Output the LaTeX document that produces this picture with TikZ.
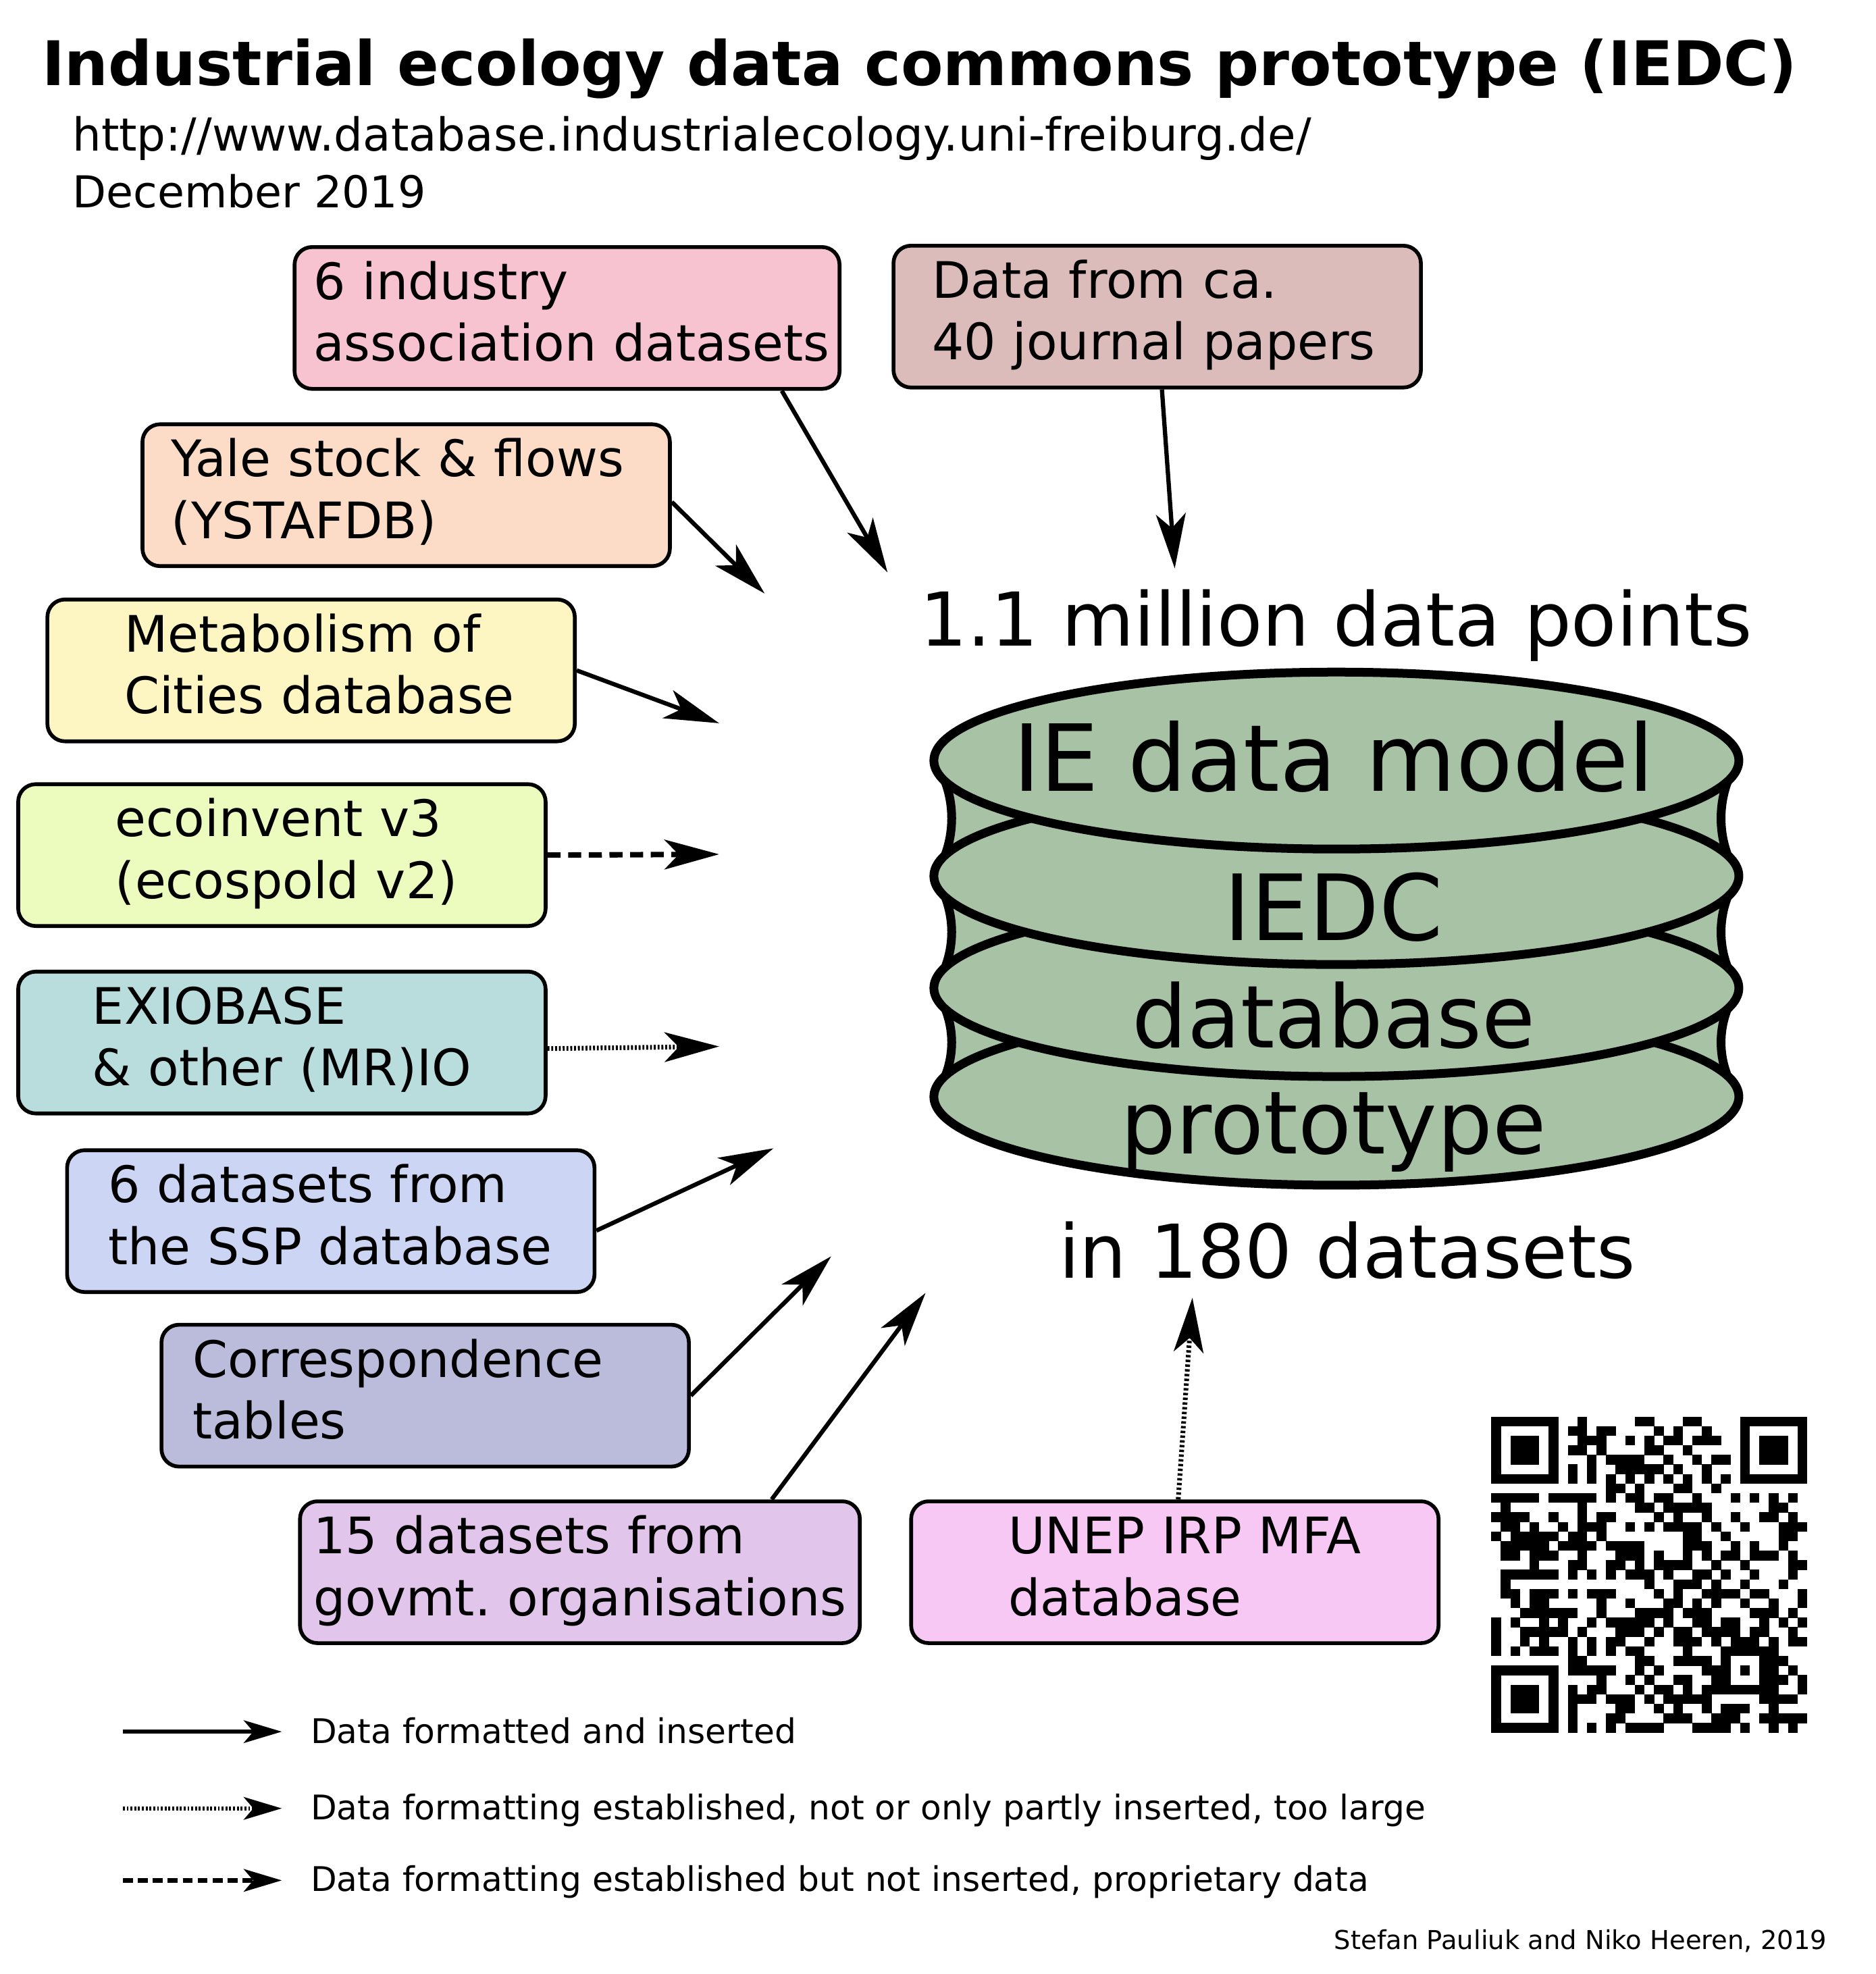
\documentclass[tikz,border=0pt]{standalone}
\usepackage{fontspec}
\setmainfont{DejaVu Sans}
\usetikzlibrary{arrows.meta}

\definecolor{industrypink}{HTML}{F7C3D0}
\definecolor{journalrose}{HTML}{DBBCBB}
\definecolor{yalepeach}{HTML}{FCDCC7}
\definecolor{citiesyellow}{HTML}{FDF6C2}
\definecolor{ecoinventlime}{HTML}{ECFCBE}
\definecolor{exiocyan}{HTML}{B9DDDD}
\definecolor{sspblue}{HTML}{CCD6F4}
\definecolor{corrslate}{HTML}{BBBBDB}
\definecolor{govmtlilac}{HTML}{E1C5EA}
\definecolor{uneppink}{HTML}{F8C8F5}
\definecolor{cylgreen}{HTML}{A8C2A6}

\newcommand\srcfont{\fontsize{21.2}{26}\selectfont}
\newcommand\bigfont{\fontsize{31.3}{38}\selectfont}
\newcommand\legfont{\fontsize{14.3}{17}\selectfont}
% two lines of a source box, kept unbroken
\newcommand\srclines[2]{\begin{tabular}{@{}l@{}}#1\\#2\end{tabular}}

\tikzset{
  srcbox/.style={draw, line width=1.6pt, rounded corners=0.26cm, anchor=north west,
    minimum height=2.10cm, align=left, font=\srcfont},
  feed/.style={line width=1.8pt, -{Stealth[length=23pt, width=12.5pt, inset=6pt]}},
  propfeed/.style={feed, line width=2.3pt, dash pattern=on 5.5pt off 3.2pt},
  partfeed/.style={feed, line width=2pt, dash pattern=on 1pt off 1pt},
  legend/.style={line width=1.8pt, -{Stealth[length=16pt, width=9.5pt, inset=4pt]}},
  cylline/.style={line width=3.7pt, line join=round},
  cyltext/.style={anchor=base, inner sep=0pt},
  bigtext/.style={anchor=base, inner sep=0pt, font=\bigfont},
}

\begin{document}
\begin{tikzpicture}[x=0.01006cm, y=-0.01006cm]
\useasboundingbox[fill=white] (0cm,0cm) rectangle (27.78cm,-29.23cm);

% heading
\node[anchor=base west, inner sep=0pt, font=\fontsize{25.9}{31}\selectfont\bfseries] (title) at (61,126) {Industrial ecology data commons prototype (IEDC)};
\node[anchor=base west, inner sep=0pt, font=\fontsize{19.2}{23}\selectfont] (url) at (106,222) {http://www.database.industrialecology.uni-freiburg.de/};
\node[anchor=base west, inner sep=0pt, font=\fontsize{18.5}{23}\selectfont] (date) at (106,306) {December 2019};

% sources
\node[srcbox, fill=industrypink, inner xsep=0.28cm, text width=7.51cm] (industry) at (431,361) {\srclines{6 industry}{association datasets}};
\node[srcbox, fill=journalrose, inner xsep=0.57cm, text width=6.67cm] (journals) at (1313,359) {\srclines{Data from ca.}{40 journal papers}};
\node[srcbox, fill=yalepeach, inner xsep=0.43cm, text width=6.95cm] (yale) at (207,622) {\srclines{Yale stock \& flows}{(YSTAFDB)}};
\node[srcbox, fill=citiesyellow, inner xsep=1.14cm, text width=5.53cm] (cities) at (67,880) {\srclines{Metabolism of}{Cities database}};
\node[srcbox, fill=ecoinventlime, inner xsep=1.44cm, text width=4.93cm] (ecoinvent) at (24,1152) {\srclines{ecoinvent v3}{(ecospold v2)}};
\node[srcbox, fill=exiocyan, inner xsep=1.10cm, text width=5.61cm] (exiobase) at (24,1428) {\srclines{EXIOBASE}{\& other (MR)IO}};
\node[srcbox, fill=sspblue, inner xsep=0.61cm, text width=6.59cm] (ssp) at (96,1691) {\srclines{6 datasets from}{the SSP database}};
\node[srcbox, fill=corrslate, inner xsep=0.46cm, text width=6.89cm] (corr) at (235,1948) {\srclines{Correspondence}{tables}};
\node[srcbox, fill=govmtlilac, inner xsep=0.20cm, text width=7.89cm] (govmt) at (439,2208) {\srclines{15 datasets from}{govmt.\ organisations}};
\node[srcbox, fill=uneppink, inner xsep=1.44cm, text width=4.93cm] (unep) at (1339,2208) {\srclines{UNEP IRP MFA}{database}};

% database cylinder
\foreach \ya/\yb in {1120/1290,1290/1455,1455/1615} {
  \fill[cylgreen] (1376,\ya) .. controls (1410,\ya+50) and (1410,\yb-50) .. (1376,\yb)
    -- (2560,\yb) .. controls (2526,\yb-50) and (2526,\ya+50) .. (2560,\ya) -- cycle;
  \draw[cylline] (1376,\ya) .. controls (1410,\ya+50) and (1410,\yb-50) .. (1376,\yb);
  \draw[cylline] (2560,\ya) .. controls (2526,\ya+50) and (2526,\yb-50) .. (2560,\yb);
}
\foreach \yc in {1615,1455,1290,1120}
  \draw[cylline, fill=cylgreen] (1968,\yc) ellipse [x radius=5.96cm, y radius=1.31cm];

\node[cyltext, font=\fontsize{39}{44}\selectfont] (model) at (1964,1165) {IE data model};
\node[cyltext, font=\fontsize{38.5}{44}\selectfont] (iedc) at (1964,1385) {IEDC};
\node[cyltext, font=\fontsize{36.6}{44}\selectfont] (dbase) at (1964,1543) {database};
\node[cyltext, font=\fontsize{36.8}{44}\selectfont] (proto) at (1964,1699) {prototype};
\node[bigtext] (points) at (1968,951) {1.1 million data points};
\node[bigtext] (sets) at (1984,1882) {in 180 datasets};

% arrow targets
\coordinate (t1) at (1307,843);
\coordinate (t2) at (1730,837);
\coordinate (t3) at (1126,874);
\coordinate (t4) at (1059,1065);
\coordinate (t5) at (1059,1258);
\coordinate (t6) at (1059,1541);
\coordinate (t7) at (1139,1691);
\coordinate (t8) at (1224,1850);
\coordinate (t9) at (1363,1904);
\coordinate (t10) at (1756,1911);

\draw[feed] ([xshift=3.18cm]industry.south) -- (t1);
\draw[feed] ([xshift=0.07cm]journals.south) -- (t2);
\draw[feed] ([yshift=-0.1cm]yale.east) -- (t3);
\draw[feed] (cities.east) -- (t4);
\draw[propfeed] (ecoinvent.east) -- (t5);
\draw[partfeed, dash pattern=on 0.8pt off 0.8pt] ([yshift=-0.09cm]exiobase.east) -- (t6);
\draw[feed] ([yshift=-0.14cm]ssp.east) -- (t7);
\draw[feed] (corr.east) -- (t8);
\draw[feed] ([xshift=2.84cm]govmt.north) -- (t9);
\draw[partfeed] ([xshift=0.05cm]unep.north) -- (t10);

% QR code
\foreach \r/\cs in {
  0/{0,1,2,3,4,5,6,9,15,16,20,21,26,27,28,29,30,31,32},
  1/{0,6,8,9,11,12,17,19,22,26,32},
  2/{0,2,3,4,6,9,10,11,14,16,18,19,21,22,23,26,28,29,30,32},
  3/{0,2,3,4,6,8,9,11,16,17,20,26,28,29,30,32},
  4/{0,2,3,4,6,10,12,13,14,15,18,21,23,24,26,28,29,30,32},
  5/{0,6,8,10,13,14,15,16,17,19,22,26,32},
  6/{0,1,2,3,4,5,6,8,10,12,14,16,18,20,22,24,26,27,28,29,30,31,32},
  7/{12,13,15,19,20,23},
  8/{0,1,2,3,4,6,7,8,9,10,12,14,15,17,18,21,25,27,29,31},
  9/{1,9,15,16,18,19,20,21,22,29,30},
  10/{0,1,2,3,6,9,11,12,17,19,22,25,28,29,31},
  11/{1,2,4,7,9,10,11,14,16,18,19,20,21,23,26,30,31,32},
  12/{0,2,3,4,5,6,8,9,11,20,21,24,30,31},
  13/{1,2,3,4,5,7,8,9,10,12,13,14,15,20,21,22,25,27,30},
  14/{1,2,4,5,6,9,13,14,15,17,20,22,24,25,27,28,29,31},
  15/{4,8,9,12,13,15,17,18,19,20,23,26,31,32},
  16/{1,2,3,4,5,6,8,10,12,14,15,16,18,21,22,24,27,31},
  17/{1,16,19,20,21,23,26,30},
  18/{1,2,4,5,6,8,10,11,12,17,19,22,23,24,25,27,28,32},
  19/{2,4,5,11,14,18,19,21,23,26,29,32},
  20/{3,4,5,6,7,8,11,15,16,17,18,20,21,22,27,28,29,31},
  21/{0,2,5,7,10,12,13,14,15,16,18,21,22,24,25,28,30,32},
  22/{0,3,4,5,6,7,9,13,14,15,17,19,20,22,23,24,25,27,28,31},
  23/{0,3,5,8,10,12,13,16,19,20,21,23,25,26,27,29,31,32},
  24/{0,2,4,5,6,8,10,12,14,15,20,24,25,26,27,28,29},
  25/{8,9,15,16,19,20,21,22,24,28,29,30},
  26/{0,1,2,3,4,5,6,8,9,10,11,12,15,17,22,23,24,26,28,29,31},
  27/{0,6,11,14,16,19,20,23,24,28,29,30,32},
  28/{0,2,3,4,6,8,10,11,15,17,18,20,22,23,24,25,26,27,28,29,32},
  29/{0,2,3,4,6,8,9,10,12,13,14,16,18,19,20,21,22,28,29,30,31},
  30/{0,2,3,4,6,8,13,14,17,19,22,24,25,26,29},
  31/{0,6,8,12,13,18,19,20,23,24,25,28,29,30,31,32},
  32/{0,1,2,3,4,5,6,8,10,12,14,15,16,17,21,22,23,24,26,29,31}}
  \foreach \c in \cs
    \fill (2196+\c*14.1,2086+\r*14.1) rectangle ++(14.4,14.4);

% legend
\coordinate (la1) at (181,2550); \coordinate (lb1) at (415,2550);
\coordinate (la2) at (181,2663); \coordinate (lb2) at (415,2663);
\coordinate (la3) at (181,2769); \coordinate (lb3) at (415,2769);
\draw[legend] (la1) -- (lb1);
\draw[legend, dash pattern=on 0.8pt off 0.8pt] (la2) -- (lb2);
\draw[legend, dash pattern=on 4.2pt off 2.1pt] (la3) -- (lb3);
\node[anchor=base west, inner sep=0pt, font=\legfont] (leg1) at (457,2567) {Data formatted and inserted};
\node[anchor=base west, inner sep=0pt, font=\legfont] (leg2) at (457,2680) {Data formatting established, not or only partly inserted, too large};
\node[anchor=base west, inner sep=0pt, font=\legfont] (leg3) at (457,2785) {Data formatting established but not inserted, proprietary data};

\node[anchor=base east, inner sep=0pt, font=\fontsize{10.95}{13}\selectfont] (credit) at (2691,2871) {Stefan Pauliuk and Niko Heeren, 2019};
\end{tikzpicture}
\end{document}
